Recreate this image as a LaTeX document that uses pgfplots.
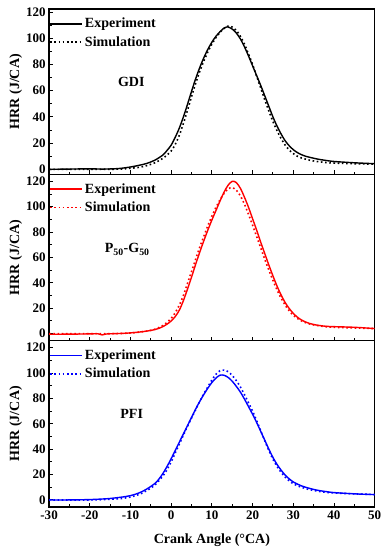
\documentclass[border=0pt]{standalone}
\usepackage{pgfplots}
\pgfplotsset{compat=1.18}
\usepgfplotslibrary{groupplots}
\usepackage{fontspec}
\setmainfont{Liberation Serif}

\newcommand{\tickfont}{\fontsize{13}{13}\selectfont\bfseries}
\newcommand{\labfont}{\fontsize{14}{14}\selectfont\bfseries}

\pgfplotsset{
  hrrstyle/.style={
    width=325pt, height=166pt, scale only axis,
    xmin=-30, xmax=50, xtick={-30,-20,...,50}, minor x tick num=1,
    ytick={0,20,...,120}, minor y tick num=1,
    tick align=inside, xtick pos=lower, ytick pos=left,
    major tick length=4pt, minor tick length=2.5pt,
    every tick/.style={black, line width=0.9pt},
    axis line style={line width=1.2pt},
    ticklabel style={font=\tickfont},
    /pgf/number format/assume math mode=true,
    label style={font=\labfont},
    ylabel={HRR (J/CA)},
    ylabel style={yshift=-3pt},
    xlabel style={yshift=-8pt},
    legend cell align=left,
    legend style={draw=none, fill=none, at={(0,1)}, anchor=north west,
      yshift=-5pt,
      font=\labfont, inner xsep=0pt, inner ysep=2pt, row sep=3pt,
      /tikz/every even column/.append style={column sep=0pt}},
    legend image code/.code={\draw[#1] (0pt,0pt) -- (32pt,0pt);},
    exp/.style={line width=1.4pt, smooth, tension=0.5},
    sim/.style={line width=1.6pt, dash pattern=on 1.6pt off 2.6pt, smooth, tension=0.5},
  }
}

\begin{document}
\begin{tikzpicture}
\begin{groupplot}[group style={group name=hp, group size=1 by 3, vertical sep=0pt, x descriptions at=edge bottom},
  hrrstyle]
% ---------------- GDI ----------------
\nextgroupplot[ymin=-3.8, ymax=122.3, height=165pt]
\addplot[exp, black] coordinates {
(-30,0) (-25,0.2) (-20,0.4) (-17,0.2) (-14,0.4) (-12,0.9) (-10,1.8) (-8,3) (-6,4.5) (-4,7) (-2,11) (-1,14.5) (0,18.5)
(1,24.5) (2,31.5) (3,40) (4,49.5) (5,59.5) (6,69) (7,77.5) (8,85) (9,91.5) (10,97) (11,101.5) (12,105) (13,107.8) (13.6,108.6)
(14,108.6) (15,107) (16,104) (17,99.5) (18,93.5) (19,86.5) (20,79) (21,71.5) (22,64) (23,56) (24,48) (25,40)
(26,33) (27,27) (28,21.8) (29,18) (30,15) (31,12.8) (32,11.2) (33,10) (34,9.2) (36,7.8) (38,6.8) (40,6) (45,5) (50,4.3)};
\addlegendentry{Experiment}
\addplot[sim, black] coordinates {
(-30,0) (-20,0) (-14,0.1) (-12,0.3) (-10,0.8) (-8,1.5) (-6,2.8) (-4,5) (-2,8.5) (-1,11) (0,14) (1,19) (2,26) (3,35) (4,45)
(5,55.5) (6,65.5) (7,74.5) (8,82.5) (9,89.5) (10,95.5) (11,100.5) (12,104.5) (13,107.5) (14,109.3) (15,108.5) (16,106) (17,101.5)
(18,95.5) (19,88) (20,80) (21,71) (22,62) (23,53) (24,44.5) (25,36.5) (26,29.5) (27,23.5) (28,18.5) (29,14.8) (30,12)
(31,10) (32,8.7) (34,7) (36,5.9) (38,5.2) (40,4.8) (45,4.3) (50,4)};
\addlegendentry{Simulation}
\node[font=\labfont] at (axis cs:-9.8,66.5) {GDI};
% ---------------- P50-G50 ----------------
\nextgroupplot[ymin=-5.5, ymax=125.5]
\addplot[exp, red] coordinates {
(-30,-0.5) (-25,-0.4) (-20,-0.2) (-18,-0.1) (-17,-1) (-16,-0.3) (-14,0) (-12,0.2) (-10,0.6) (-8,1.2) (-6,2) (-4,3.2)
(-3,4.2) (-2,5.6) (-1,7.5) (0,10) (1,13.5) (2,18.5) (3,26) (4,35) (5,44.5) (6,54.5) (7,64) (8,73) (9,81.5) (10,89.5)
(11,97) (12,104.5) (13,111.5) (14,117) (15,120) (16,119) (17,114.5) (18,107.5) (19,99.5) (20,90.5) (21,81.5) (22,72)
(23,63) (24,54) (25,45.5) (26,37.5) (27,30.5) (28,24.5) (29,19.8) (30,16) (31,13) (32,10.8) (33,9.2) (34,8) (36,6.6)
(38,5.8) (40,5.5) (45,5) (50,4)};
\addlegendentry{Experiment}
\addplot[sim, red] coordinates {
(-30,0) (-15,0) (-10,0.5) (-6,2) (-4,3.5) (-2,6.5) (-1,9) (0,12) (1,16.5) (2,22.5) (3,30) (4,39.5) (5,49) (6,58.5) (7,68)
(8,76.5) (9,85) (10,92.5) (11,99.5) (12,105.5) (13,110.5) (14,114) (15,115) (16,113) (17,108.5) (18,102) (19,94) (20,85.5)
(21,76.5) (22,67.5) (23,58.5) (24,50) (25,42) (26,34.5) (27,28) (28,22.5) (29,18) (30,14.5) (31,12) (32,10) (34,7.6) (36,6.3)
(38,5.5) (40,5) (45,4.5) (50,4)};
\addlegendentry{Simulation}
\node[font=\labfont] at (axis cs:-10.8,66.3) {P\textsubscript{50}-G\textsubscript{50}};
% ---------------- PFI ----------------
\nextgroupplot[ymin=-5.5, ymax=125.5, xlabel={Crank Angle (\textdegree CA)}]
\addplot[exp, blue] coordinates {
(-30,0) (-25,0) (-20,0.3) (-16,0.9) (-14,1.5) (-12,2.3) (-10,3.4) (-8,5.4) (-6,8.6) (-4,13) (-3,16.5) (-2,21) (-1,26.5)
(0,32.5) (1,39) (2,45.5) (3,52) (4,58.5) (5,65) (6,71.5) (7,77.5) (8,83) (9,88) (10,92.5) (11,96) (12,98.3) (13,98.2)
(14,96.5) (15,93.5) (16,89.5) (17,85) (18,79.5) (19,73.5) (20,67.5) (21,61) (22,54) (23,47) (24,40) (25,33.5) (26,28)
(27,23.5) (28,19.6) (29,16.6) (30,14.2) (31,12.5) (32,11.1) (34,9.1) (36,7.6) (38,6.6) (40,5.8) (45,4.8) (50,4.2)};
\addlegendentry{Experiment}
\addplot[sim, blue] coordinates {
(-30,0) (-20,0) (-15,0.5) (-12,1.2) (-10,2.3) (-8,4.2) (-6,7.3) (-4,11.8) (-2,19) (-1,24) (0,30) (1,37) (2,44) (3,51)
(4,58) (5,64.5) (6,71) (7,77.5) (8,83.5) (9,89) (10,94.5) (11,99) (12,101.8) (13,102.3) (14,101) (15,98) (16,94)
(17,89) (18,83) (19,76.5) (20,70) (21,62.5) (22,54.5) (23,46.5) (24,39) (25,32) (26,26.5) (27,21.8) (28,18) (29,15)
(30,12.8) (31,11.2) (32,10) (34,8.1) (36,6.9) (38,6) (40,5.5) (45,4.8) (50,4.3)};
\addlegendentry{Simulation}
\node[font=\labfont] at (axis cs:-9.7,67.9) {PFI};
\end{groupplot}
\pgfresetboundingbox
\path ([xshift=-49pt,yshift=9pt]hp c1r1.north west) rectangle ([xshift=11pt,yshift=-43pt]hp c1r3.south east);
\end{tikzpicture}
\end{document}
